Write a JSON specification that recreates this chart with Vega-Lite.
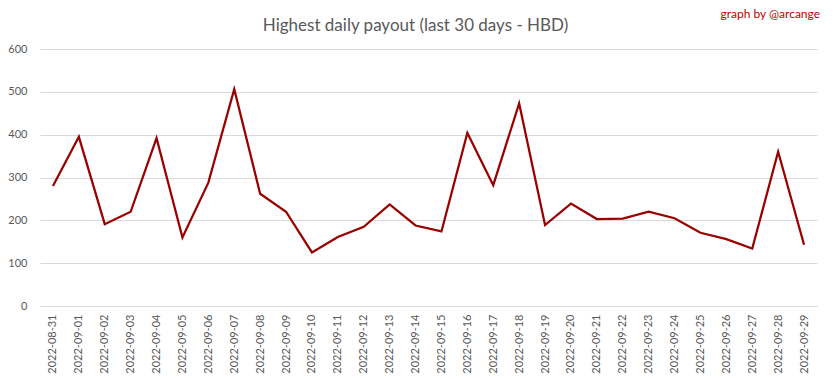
{
  "$schema": "https://vega.github.io/schema/vega-lite/v6.json",
  "autosize": "none",
  "width": 777,
  "height": 257,
  "padding": {"left": 40, "top": 49, "right": 16, "bottom": 73},
  "background": "white",
  "config": {
    "font": "Lato",
    "view": {"stroke": null}
  },
  "title": {
    "text": "Highest daily payout (last 30 days - HBD)",
    "anchor": "middle",
    "dx": -13,
    "offset": -27,
    "fontSize": 17,
    "fontWeight": "normal",
    "color": "#595959",
    "font": "Lato"
  },
  "data": {
    "values": [
      {"date": "2022-08-31", "payout": 280},
      {"date": "2022-09-01", "payout": 395},
      {"date": "2022-09-02", "payout": 191},
      {"date": "2022-09-03", "payout": 220},
      {"date": "2022-09-04", "payout": 392},
      {"date": "2022-09-05", "payout": 160},
      {"date": "2022-09-06", "payout": 288},
      {"date": "2022-09-07", "payout": 506},
      {"date": "2022-09-08", "payout": 262},
      {"date": "2022-09-09", "payout": 220},
      {"date": "2022-09-10", "payout": 125},
      {"date": "2022-09-11", "payout": 161},
      {"date": "2022-09-12", "payout": 185},
      {"date": "2022-09-13", "payout": 237},
      {"date": "2022-09-14", "payout": 188},
      {"date": "2022-09-15", "payout": 174},
      {"date": "2022-09-16", "payout": 404},
      {"date": "2022-09-17", "payout": 282},
      {"date": "2022-09-18", "payout": 473},
      {"date": "2022-09-19", "payout": 189},
      {"date": "2022-09-20", "payout": 239},
      {"date": "2022-09-21", "payout": 203},
      {"date": "2022-09-22", "payout": 204},
      {"date": "2022-09-23", "payout": 220},
      {"date": "2022-09-24", "payout": 205},
      {"date": "2022-09-25", "payout": 171},
      {"date": "2022-09-26", "payout": 156},
      {"date": "2022-09-27", "payout": 134},
      {"date": "2022-09-28", "payout": 360},
      {"date": "2022-09-29", "payout": 143}
    ]
  },
  "layer": [
    {
      "mark": {"type": "line", "color": "#990000", "strokeWidth": 2.25, "strokeJoin": "miter"},
      "encoding": {
        "x": {
          "field": "date",
          "type": "ordinal",
          "scale": {"type": "point", "padding": 0.5},
          "axis": {
            "title": null,
            "labelAngle": -90,
            "labelFontSize": 11,
            "labelColor": "#595959",
            "labelPadding": 8,
            "ticks": false,
            "domainColor": "#d9d9d9",
            "domainWidth": 1,
            "grid": false
          }
        },
        "y": {
          "field": "payout",
          "type": "quantitative",
          "scale": {"domain": [0, 600], "nice": false},
          "axis": {
            "title": null,
            "values": [0, 100, 200, 300, 400, 500, 600],
            "labelFontSize": 11,
            "labelColor": "#595959",
            "labelPadding": 13,
            "ticks": false,
            "domain": false,
            "gridColor": "#d9d9d9",
            "gridWidth": 1
          }
        }
      }
    },
    {
      "data": {"values": [{"date": "2022-09-29", "payout": 600, "label": "graph by @arcange"}]},
      "mark": {"type": "text", "align": "right", "baseline": "alphabetic", "dx": 16, "dy": -31, "fontSize": 12, "color": "#c00000"},
      "encoding": {
        "x": {"field": "date", "type": "ordinal"},
        "y": {"field": "payout", "type": "quantitative"},
        "text": {"field": "label"}
      }
    }
  ]
}
